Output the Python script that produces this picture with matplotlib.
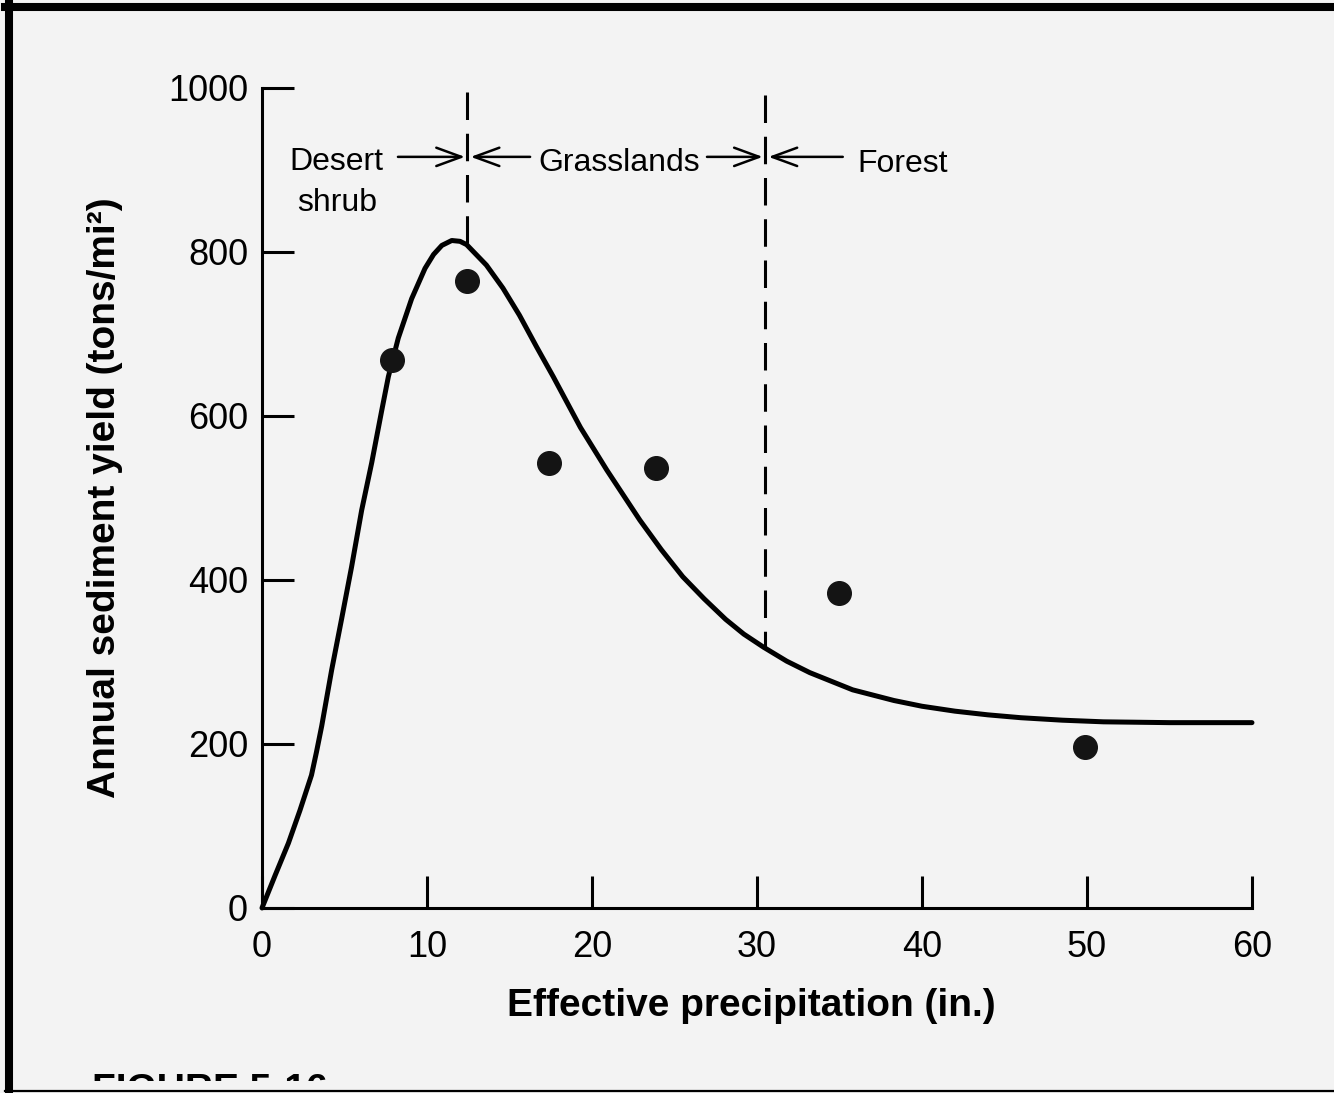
#!/usr/bin/env python
"""Annual sediment yield vs effective precipitation (scanned textbook figure)."""
import matplotlib

matplotlib.use("Agg")
import matplotlib.pyplot as plt
from matplotlib.lines import Line2D
from matplotlib.transforms import Bbox, TransformedBbox

# measured stations
precip_pts = [7.9, 12.4, 17.4, 23.9, 35.0, 49.9]
yield_pts = [668, 764, 543, 537, 384, 196]

# fitted curve
curve_x = [0, 0.8, 1.6, 2.3, 3.0, 3.3, 3.62, 4.22, 4.83, 5.43, 6.04, 6.65,
           7.25, 7.66, 8.26, 9.07, 9.88, 10.4, 10.9, 11.5, 12.0, 12.4, 13.6,
           14.6, 15.6, 16.65, 17.65, 19.3, 20.9, 22.9, 24.2, 25.5, 26.8, 28.1,
           29.2, 30.4, 31.8, 33.2, 35.8, 38.3, 40.0, 42.0, 44.0, 46.0, 48.5,
           51.0, 55.0, 60.0]
curve_y = [0, 40, 79, 119, 162, 190, 222, 290, 353, 416, 485, 543,
           606, 648, 695, 743, 780, 797, 808, 814, 813, 809, 784,
           756, 723, 684, 648, 586, 534, 473, 437, 404, 377, 352,
           334, 318, 301, 287, 266, 253, 246, 240, 235.5, 232, 229,
           227, 226, 226]

# vegetation zone boundaries (x, top of dashes, where they meet the curve)
bound_x = [12.45, 30.5]
bound_top = [995, 992]
bound_bottom = [809, 318]

zones = ["Desert", "shrub", "Grasslands", "Forest"]
zone_x = [1.64, 2.12, 16.73, 36.06]
zone_y = [900, 850, 899, 898]
# zone arrows: (from, to) in inches of precipitation
arrow_from = [8.24, 16.25, 26.97, 35.2]
arrow_to = [12.3, 12.65, 30.35, 30.7]

x_ticks = [0, 10, 20, 30, 40, 50, 60]
y_ticks = [0, 200, 400, 600, 800, 1000]

plt.rcParams["font.family"] = ["Liberation Sans", "DejaVu Sans"]
BG = "#f3f3f3"


def plot_sediment(fname="out.png"):
    """Draw the curve, points, zone labels and the scan frame."""
    fig = plt.figure(figsize=(13.34, 10.93), dpi=100, facecolor=BG)
    ax = fig.add_axes([0.1964, 0.1693, 0.7421, 0.7502])
    ax.set_facecolor(BG)

    ax.plot(curve_x, curve_y, color="black", lw=3.6, solid_joinstyle="round",
            solid_capstyle="round", clip_on=False, zorder=3)
    ax.plot(precip_pts, yield_pts, "o", color="#141414", ms=17, zorder=4)

    for x, top, bot in zip(bound_x, bound_top, bound_bottom):
        ax.plot([x, x], [top, bot], color="black", lw=2.2,
                linestyle=(0, (9, 4.5)), zorder=2)

    for label, x, y in zip(zones, zone_x, zone_y):
        ax.text(x, y, label, fontsize=23, va="baseline", ha="left")
    for x0, x1 in zip(arrow_from, arrow_to):
        ax.annotate("", xy=(x1, 916), xytext=(x0, 916),
                    arrowprops=dict(arrowstyle="->,head_length=0.6,head_width=0.22",
                                    lw=1.8, color="black", mutation_scale=30,
                                    shrinkA=0, shrinkB=0))

    ax.set_xlim(0, 60)
    ax.set_ylim(0, 1000)
    ax.set_xticks(x_ticks)
    ax.set_yticks(y_ticks)
    for side in ("top", "right"):
        ax.spines[side].set_visible(False)
    for side in ("left", "bottom"):
        ax.spines[side].set_linewidth(2.2)
    ax.tick_params(axis="both", direction="in", length=23, width=2.2,
                   labelsize=26)
    ax.tick_params(axis="x", pad=16)
    ax.tick_params(axis="y", pad=10)

    ax.set_xlabel("Effective precipitation (in.)", fontsize=28,
                  fontweight="bold")
    ax.xaxis.set_label_coords(0.494, -0.098)
    ax.set_ylabel("Annual sediment yield (tons/mi²)", fontsize=28,
                  fontweight="bold", va="center")
    ax.yaxis.set_label_coords(-0.159, 0.5)

    # caption cut off by the scan edge
    cap = fig.text(92 / 1334, 20 / 1093, "FIGURE 5-16", fontsize=28,
                   fontweight="bold", va="top", ha="left")
    cap.set_clip_box(TransformedBbox(Bbox([[0, 12 / 1093], [1, 1]]),
                                     fig.transFigure))

    # scan frame
    frame = [
        ([9 / 1334, 9 / 1334], [2 / 1093, 1 - 3 / 1093], 5.8),
        ([5 / 1334, 1], [1 - 7 / 1093, 1 - 7 / 1093], 5.8),
        ([5 / 1334, 1], [2 / 1093, 2 / 1093], 1.6),
    ]
    for xs, ys, lw in frame:
        fig.add_artist(Line2D(xs, ys, color="black", lw=lw,
                              transform=fig.transFigure))

    fig.savefig(fname, dpi=100, facecolor=BG)


if __name__ == "__main__":
    plot_sediment()
